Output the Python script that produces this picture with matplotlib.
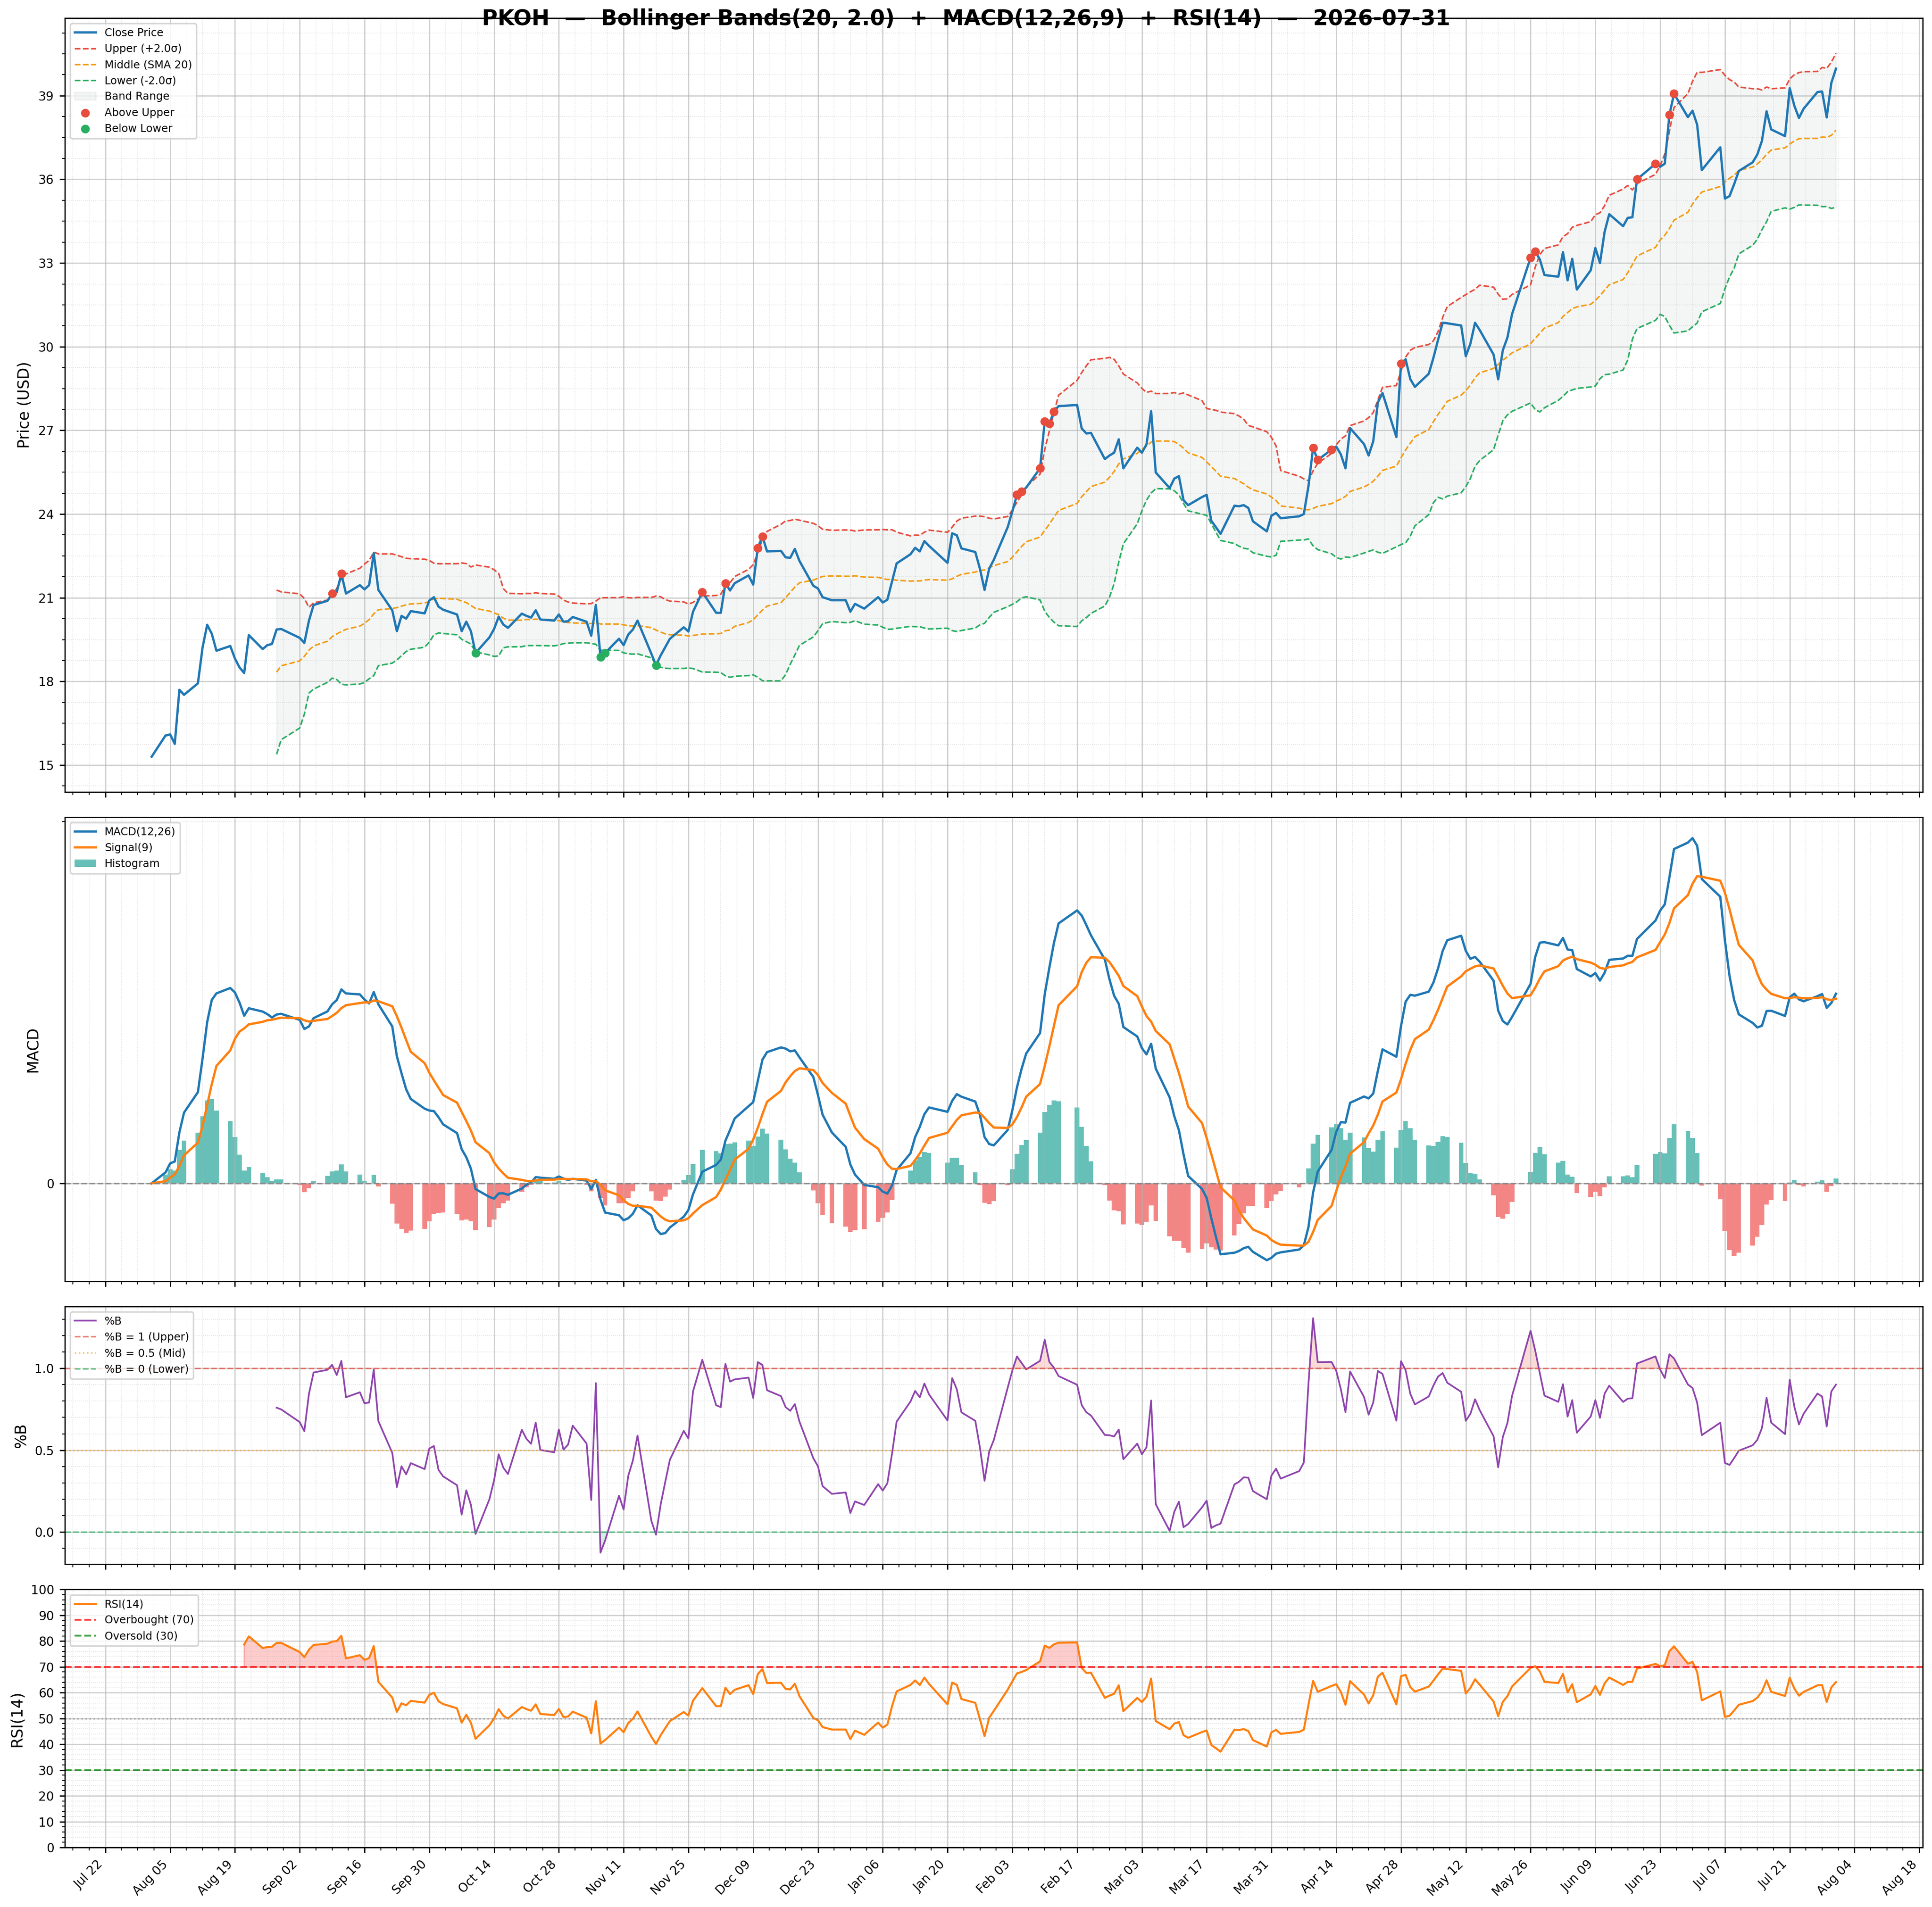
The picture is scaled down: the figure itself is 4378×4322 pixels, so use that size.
import numpy as np
import pandas as pd
import matplotlib
matplotlib.use('Agg')
import matplotlib.pyplot as plt
from matplotlib.ticker import AutoMinorLocator, FixedLocator, MultipleLocator

TICKER = 'PKOH'
ASOF = '2026-07-31'
BB_N, BB_K = 20, 2.0
RSI_N = 14

# NYSE holidays inside the window
holidays = ['2025-09-01', '2025-11-27', '2025-12-25', '2026-01-01', '2026-01-19',
            '2026-02-16', '2026-04-03', '2026-05-25', '2026-06-19', '2026-07-03']

# closing prices, one list per month
close_aug = [15.30, 16.06, 16.10, 15.76, 17.70, 17.52, 17.93, 19.21, 20.03, 19.71, 19.10,
             19.27, 18.82, 18.50, 18.30, 19.66, 19.16, 19.30, 19.34, 19.86, 19.88]
close_sep = [19.56, 19.38, 20.18, 20.74, 20.89, 21.15, 21.20, 21.86, 21.15, 21.45, 21.30,
             21.45, 22.60, 21.28, 20.55, 19.80, 20.35, 20.25, 20.52, 20.44, 20.90]
close_oct = [21.02, 20.68, 20.57, 20.40, 19.80, 20.14, 19.80, 19.02, 19.58, 19.88, 20.32, 20.04,
             19.92, 20.43, 20.35, 20.29, 20.55, 20.22, 20.18, 20.40, 20.14, 20.16, 20.31]
close_nov = [20.14, 19.64, 20.74, 18.88, 19.02, 19.53, 19.30, 19.68, 19.86, 20.18,
             18.99, 18.58, 18.93, 19.23, 19.53, 19.94, 19.79, 20.50, 21.20]
close_dec = [20.46, 20.46, 21.52, 21.26, 21.52, 21.80, 21.47, 22.79, 23.20, 22.66, 22.68,
             22.45, 22.43, 22.75, 22.32, 21.43, 21.33, 21.02, 20.91, 20.91, 20.50, 20.78]
close_jan = [20.61, 21.02, 20.83, 20.93, 21.58, 22.23, 22.56, 22.79, 22.66, 23.03,
             22.86, 22.25, 23.31, 23.24, 22.77, 22.64, 22.04, 21.28, 22.04, 22.36]
close_feb = [23.53, 24.09, 24.69, 24.80, 24.95, 25.64, 27.32, 27.24, 27.67, 27.87,
             27.91, 27.07, 26.89, 26.91, 25.97, 26.10, 26.20, 26.68, 25.64]
close_mar = [26.38, 26.20, 26.50, 27.69, 25.49, 24.93, 25.27, 25.36, 24.50, 24.32, 24.61,
             24.69, 23.76, 23.53, 23.29, 24.30, 24.28, 24.32, 24.22, 23.74, 23.38, 23.94]
close_apr = [24.04, 23.85, 23.92, 24.00, 25.00, 26.37, 25.94, 26.31, 26.42, 26.14, 25.64,
             27.08, 26.51, 26.10, 26.61, 28.00, 28.34, 26.76, 29.40, 29.55, 28.84]
close_may = [28.56, 29.03, 29.60, 30.24, 30.86, 30.84, 30.76, 29.66, 30.11, 30.86,
             30.60, 29.72, 28.83, 29.87, 30.33, 31.17, 33.19, 33.41, 33.13, 32.57]
close_jun = [32.51, 33.39, 32.38, 33.15, 32.05, 32.74, 33.54, 33.00, 34.12, 34.75, 34.32,
             34.62, 34.64, 36.00, 36.56, 36.45, 36.56, 38.31, 39.07, 38.23, 38.46]
close_jul = [37.96, 36.33, 37.15, 35.31, 35.40, 35.83, 36.30, 36.61, 36.89, 37.38, 38.44,
             37.79, 37.55, 39.27, 38.64, 38.20, 38.53, 39.13, 39.15, 38.22, 39.46, 39.97]

dates = pd.bdate_range('2025-08-01', '2026-07-31', freq='C', holidays=holidays)
close = pd.Series(close_aug + close_sep + close_oct + close_nov + close_dec + close_jan +
                  close_feb + close_mar + close_apr + close_may + close_jun + close_jul,
                  index=dates)

# indicators
mid = close.rolling(BB_N).mean()
sd = close.rolling(BB_N).std()
upper = mid + BB_K * sd
lower = mid - BB_K * sd
pct_b = (close - lower) / (upper - lower)

ema12 = close.ewm(span=12, adjust=False).mean()
ema26 = close.ewm(span=26, adjust=False).mean()
macd = ema12 - ema26
signal = macd.ewm(span=9, adjust=False).mean()
hist = macd - signal

delta = close.diff()
gain = delta.clip(lower=0)
loss = -delta.clip(upper=0)
avg_gain = gain.ewm(alpha=1 / RSI_N, adjust=False, min_periods=RSI_N).mean()
avg_loss = loss.ewm(alpha=1 / RSI_N, adjust=False, min_periods=RSI_N).mean()
rsi = 100 - 100 / (1 + avg_gain / avg_loss)

W, H, DPI = 4378, 4322, 250
fig = plt.figure(figsize=(W / DPI, H / DPI), dpi=DPI)
gs = fig.add_gridspec(4, 1, height_ratios=[3, 1.8, 1, 1], hspace=0.0573,
                      left=147 / W, right=4357 / W, top=1 - 41 / H, bottom=1 - 4187 / H)
ax1 = fig.add_subplot(gs[0])
ax2 = fig.add_subplot(gs[1], sharex=ax1)
ax3 = fig.add_subplot(gs[2], sharex=ax1)
ax4 = fig.add_subplot(gs[3], sharex=ax1)

LEG = dict(loc='upper left', fontsize=7, framealpha=0.8)

# price + bands
ax1.plot(dates, close, color='#1f77b4', lw=1.5, label='Close Price', zorder=3)
ax1.plot(dates, upper, color='#e74c3c', ls='--', lw=1.0, label='Upper (+2.0σ)')
ax1.plot(dates, mid, color='#f39c12', ls='--', lw=1.0, label='Middle (SMA 20)')
ax1.plot(dates, lower, color='#27ae60', ls='--', lw=1.0, label='Lower (-2.0σ)')
ax1.fill_between(dates, lower, upper, color='#95a5a6', alpha=0.1, label='Band Range')
above = close > upper
below = close < lower
ax1.scatter(dates[above], close[above], color='#e74c3c', s=22, zorder=5, label='Above Upper')
ax1.scatter(dates[below], close[below], color='#27ae60', s=22, zorder=5, label='Below Lower')
ax1.set_ylabel('Price (USD)', fontsize=10)
ax1.yaxis.set_major_locator(MultipleLocator(3))
ax1.legend(**LEG)

# MACD
ax2.plot(dates, macd, color='#1f77b4', lw=1.5, label='MACD(12,26)')
ax2.plot(dates, signal, color='#ff7f0e', lw=1.5, label='Signal(9)')
bar_cols = np.where(hist >= 0, '#26a69a', '#ef5350')
ax2.bar(dates, hist, width=1.0, color=bar_cols, alpha=0.7, label='Histogram')
ax2.axhline(0, color='gray', ls='--', lw=1.0, alpha=0.8)
ax2.set_ylabel('MACD', fontsize=10)
ax2.legend(**LEG)

# %B
ax3.plot(dates, pct_b, color='#8e44ad', lw=1.1, label='%B')
ax3.axhline(1.0, color='#e74c3c', ls='--', lw=1.0, alpha=0.7, label='%B = 1 (Upper)')
ax3.axhline(0.5, color='#f39c12', ls=':', lw=1.0, alpha=0.6, label='%B = 0.5 (Mid)')
ax3.axhline(0.0, color='#27ae60', ls='--', lw=1.0, alpha=0.7, label='%B = 0 (Lower)')
ax3.fill_between(dates, pct_b, 1.0, where=pct_b > 1.0, interpolate=True,
                 color='#e74c3c', alpha=0.2)
ax3.fill_between(dates, pct_b, 0.0, where=pct_b < 0.0, interpolate=True,
                 color='#27ae60', alpha=0.2)
ax3.set_ylabel('%B', fontsize=10)
ax3.yaxis.set_major_locator(MultipleLocator(0.5))
ax3.legend(**LEG)

# RSI
ax4.plot(dates, rsi, color='#ff7f0e', lw=1.3, label='RSI(14)')
ax4.axhline(70, color='red', ls='--', lw=1.2, alpha=0.75, label='Overbought (70)')
ax4.axhline(30, color='green', ls='--', lw=1.2, alpha=0.75, label='Oversold (30)')
ax4.axhline(50, color='gray', ls=':', lw=1.0, alpha=0.6)
ax4.fill_between(dates, rsi, 70, where=rsi > 70, interpolate=True, color='red', alpha=0.2)
ax4.set_ylim(0, 100)
ax4.set_yticks(range(0, 101, 10))
ax4.set_ylabel('RSI(14)', fontsize=10)
ax4.legend(**LEG)

ticks = pd.date_range('2025-07-22', '2026-08-18', freq='14D')
ax4.set_xticks(ticks)
ax4.set_xticklabels([t.strftime('%b %d') for t in ticks], rotation=45, ha='right')

for ax in (ax1, ax2, ax3, ax4):
    ax.minorticks_on()
    ax.xaxis.set_minor_locator(AutoMinorLocator())
    ax.grid(True, which='major', color='#b0b0b0', alpha=0.6, lw=0.8)
    ax.grid(True, which='minor', color='#b0b0b0', ls=':', alpha=0.4, lw=0.5)
    ax.tick_params(labelsize=8)
for ax in (ax1, ax2, ax3):
    plt.setp(ax.get_xticklabels(), visible=False)

# MACD axis only labels zero
ax2.set_yticks([0])
lo, hi = ax2.get_ylim()
ax2.yaxis.set_minor_locator(FixedLocator([hi - 0.0095 * (hi - lo)]))

fig.text(0.5, 1 - 43 / H,
         f'{TICKER}  —  Bollinger Bands({BB_N}, {BB_K})  +  MACD(12,26,9)  +  RSI({RSI_N})  —  {ASOF}',
         ha='center', va='center', fontsize=14, fontweight='bold')

fig.savefig('out.png', dpi=DPI)
